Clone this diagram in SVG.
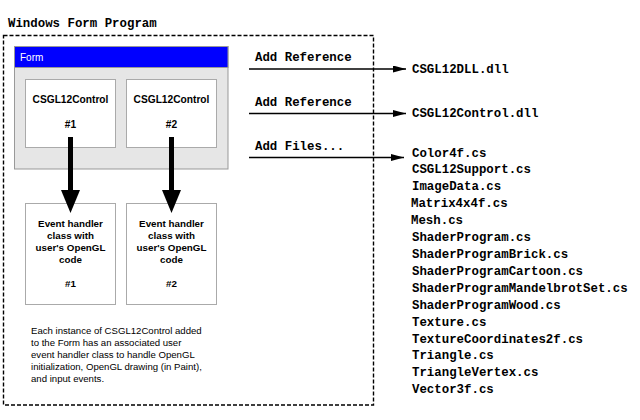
<svg xmlns="http://www.w3.org/2000/svg" width="640" height="420" viewBox="0 0 640 420">
<style>
.mono{font-family:"Liberation Mono","Courier New",monospace;font-weight:bold;font-size:12.4px;fill:#000}
.lbl{font-family:"Liberation Sans",Arial,sans-serif;font-weight:bold;font-size:9.8px;fill:#000;text-anchor:middle}
.ctl{font-family:"Liberation Sans",Arial,sans-serif;font-weight:bold;font-size:10.2px;fill:#000;text-anchor:middle}
.para{font-family:"Liberation Sans",Arial,sans-serif;font-size:9.6px;fill:#000}
.box{fill:#fff;stroke:#aaa;stroke-width:1}
.thin{stroke:#000;stroke-width:1.3;fill:none}
.thick{stroke:#000;stroke-width:5;fill:none}
</style>
<defs>
<marker id="ah" markerUnits="userSpaceOnUse" markerWidth="14" markerHeight="8" refX="13" refY="3.5" orient="auto">
<path d="M0,0 L13,3.5 L0,7 Z" fill="#000"/>
</marker>
</defs>
<rect width="640" height="420" fill="#fff"/>
<g id="program">
<text class="mono" x="8" y="27">Windows Form Program</text>
<rect x="3.5" y="35.5" width="370" height="369.5" fill="none" stroke="#000" stroke-width="1.4" stroke-dasharray="4,2"/>
</g>
<g id="form">
<rect x="14.5" y="46.5" width="213.5" height="122.5" fill="#e6e6e6" stroke="#999" stroke-width="1"/>
<rect x="14.5" y="46.5" width="213.5" height="21" fill="#0000ff" stroke="#999" stroke-width="1"/>
<text x="20" y="61" font-family="'Liberation Sans',Arial,sans-serif" font-size="10px" fill="#fff">Form</text>
</g>
<g id="control1">
<rect class="box" x="25.5" y="79.5" width="90" height="68"/>
<text class="ctl" x="70.5" y="103">CSGL12Control</text>
<text class="ctl" x="70.5" y="128">#1</text>
</g>
<g id="control2">
<rect class="box" x="126.5" y="79.5" width="90" height="68"/>
<text class="ctl" x="171.5" y="103">CSGL12Control</text>
<text class="ctl" x="171.5" y="128">#2</text>
</g>
<g id="handler1">
<rect class="box" x="25.5" y="203.5" width="90" height="101"/>
<text class="lbl" x="70.5" y="227">Event handler</text>
<text class="lbl" x="70.5" y="239">class with</text>
<text class="lbl" x="70.5" y="251">user's OpenGL</text>
<text class="lbl" x="70.5" y="263">code</text>
<text class="lbl" x="70.5" y="287">#1</text>
</g>
<g id="handler2">
<rect class="box" x="126.5" y="203.5" width="90" height="101"/>
<text class="lbl" x="171.5" y="227">Event handler</text>
<text class="lbl" x="171.5" y="239">class with</text>
<text class="lbl" x="171.5" y="251">user's OpenGL</text>
<text class="lbl" x="171.5" y="263">code</text>
<text class="lbl" x="171.5" y="287">#2</text>
</g>
<g id="note">
<text class="para" x="31" y="334">Each instance of CSGL12Control added</text>
<text class="para" x="31" y="346">to the Form has an associated user</text>
<text class="para" x="31" y="358">event handler class to handle OpenGL</text>
<text class="para" x="31" y="370">initialization, OpenGL drawing (in Paint),</text>
<text class="para" x="31" y="382">and input events.</text>
</g>
<g id="connectors">
<line class="thick" x1="70.5" y1="137" x2="70.5" y2="192"/>
<polygon points="61,190 80,190 70.5,213" fill="#000"/>
<line class="thick" x1="171.5" y1="137" x2="171.5" y2="192"/>
<polygon points="162,190 181,190 171.5,213" fill="#000"/>
<line class="thin" x1="249" y1="69" x2="406" y2="69" marker-end="url(#ah)"/>
<line class="thin" x1="249" y1="113.5" x2="406" y2="113.5" marker-end="url(#ah)"/>
<line class="thin" x1="249" y1="157.5" x2="404" y2="157.5" marker-end="url(#ah)"/>
<text class="mono" x="255" y="61">Add Reference</text>
<text class="mono" x="255" y="106">Add Reference</text>
<text class="mono" x="255" y="150">Add Files...</text>
</g>
<g id="dlls">
<text class="mono" x="412" y="73">CSGL12DLL.dll</text>
<text class="mono" x="412" y="117">CSGL12Control.dll</text>
</g>
<g id="files" class="mono">
<text class="mono" x="412" y="157">Color4f.cs</text>
<text class="mono" x="412" y="173">CSGL12Support.cs</text>
<text class="mono" x="412" y="190">ImageData.cs</text>
<text class="mono" x="411" y="207">Matrix4x4f.cs</text>
<text class="mono" x="411" y="224">Mesh.cs</text>
<text class="mono" x="412" y="241">ShaderProgram.cs</text>
<text class="mono" x="412" y="258">ShaderProgramBrick.cs</text>
<text class="mono" x="412" y="275">ShaderProgramCartoon.cs</text>
<text class="mono" x="412" y="292">ShaderProgramMandelbrotSet.cs</text>
<text class="mono" x="412" y="309">ShaderProgramWood.cs</text>
<text class="mono" x="412" y="326">Texture.cs</text>
<text class="mono" x="412" y="343">TextureCoordinates2f.cs</text>
<text class="mono" x="412" y="359">Triangle.cs</text>
<text class="mono" x="412" y="376">TriangleVertex.cs</text>
<text class="mono" x="412" y="393">Vector3f.cs</text>
</g>
</svg>
